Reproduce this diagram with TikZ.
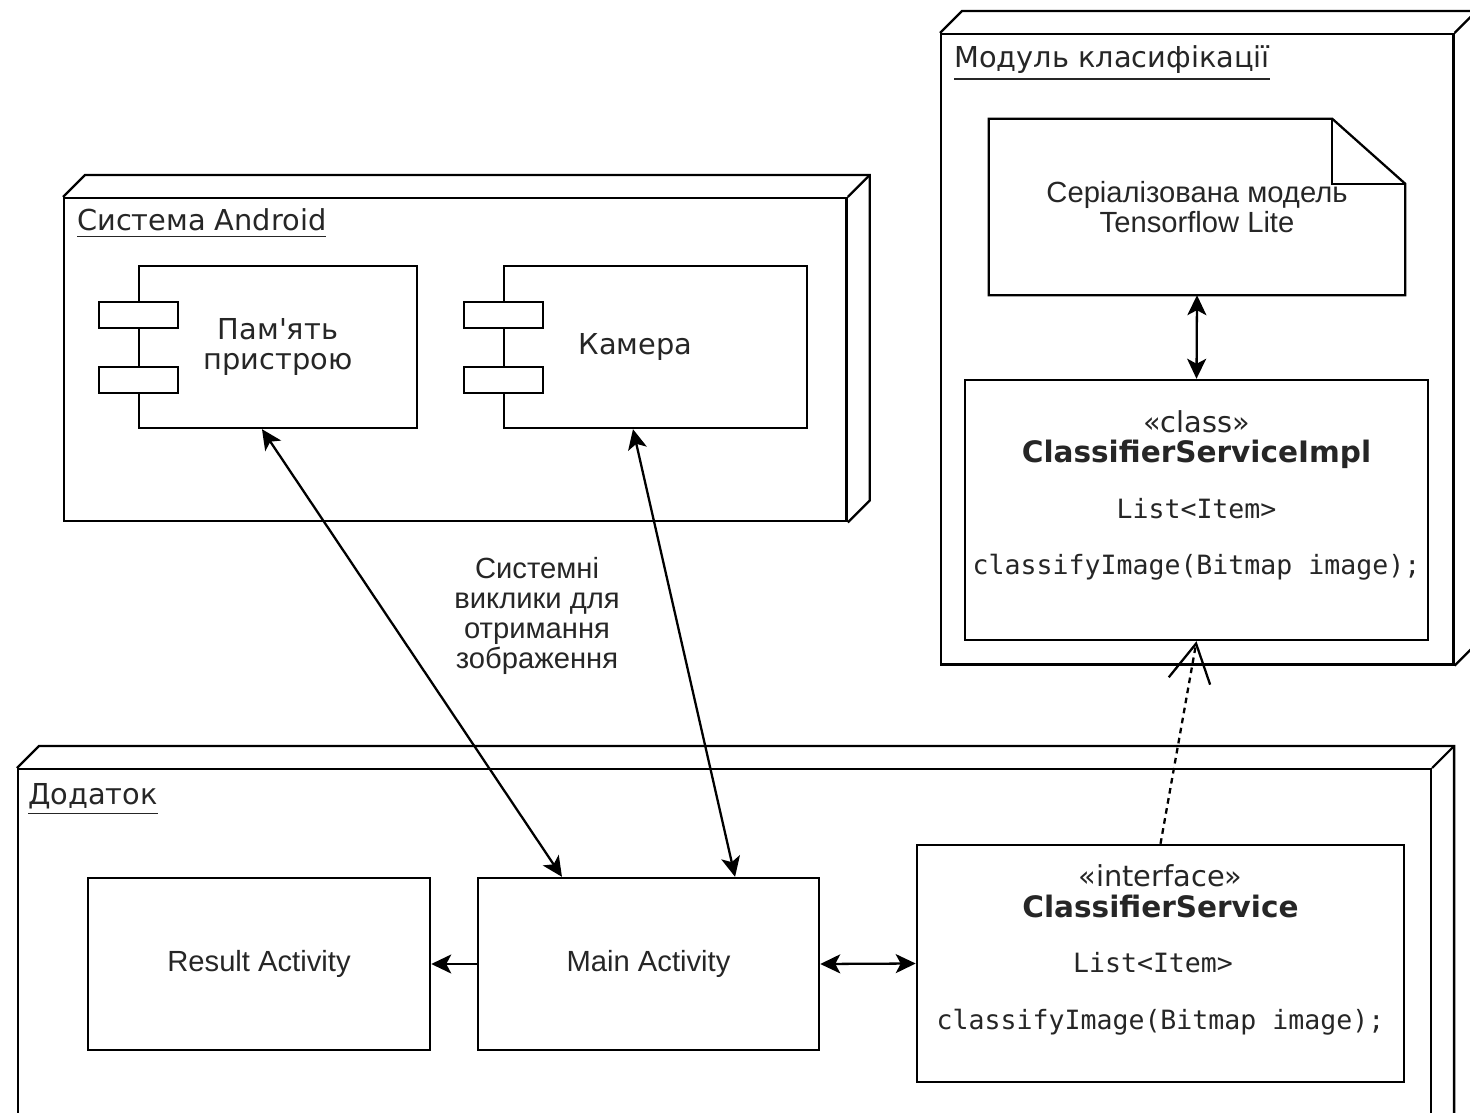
\documentclass[tikz,border=0pt]{standalone}
\usepackage{fontspec}
\setmainfont{Liberation Sans}
\newfontfamily\dejavu{DejaVu Sans}
\setmonofont{DejaVu Sans Mono}
\usetikzlibrary{arrows.meta,calc,positioning}

\begin{document}
\begin{tikzpicture}[
    x=0.01cm, y=-0.01cm,
    line width=0.65pt,
    font=\fontsize{8.3}{8.6}\selectfont,
    text=black!85,
    % Node styles
    pkg/.style={draw, anchor=north west, inner sep=0pt},
    pkgtitle/.style={anchor=base west, inner sep=0pt, font=\dejavu\fontsize{8.2}{10}\selectfont},
    comp/.style={draw, minimum height=1.62cm, align=center, font=\dejavu\fontsize{8.2}{8.8}\selectfont},
    port/.style={draw, fill=white, minimum width=0.79cm, minimum height=0.26cm, inner sep=0pt},
    box/.style={draw, minimum width=3.42cm, minimum height=1.72cm, align=center},
    stereo/.style={anchor=base, font=\dejavu\fontsize{8.2}{10}\selectfont},
    cname/.style={anchor=base, font=\dejavu\bfseries\fontsize{8.4}{10}\selectfont},
    code/.style={anchor=base, font=\ttfamily\fontsize{7.55}{9}\selectfont},
    % Connector styles
    both/.style={{Stealth[length=2mm,width=1.9mm,inset=0.5mm]}-{Stealth[length=2mm,width=1.9mm,inset=0.5mm]}},
    single/.style={-{Stealth[length=2mm,width=1.9mm,inset=0.5mm]}},
    realize/.style={dash pattern=on 1.6pt off 1.3pt, -{Straight Barb[length=3.8mm,width=4.2mm,line width=0.65pt]}},
]
    \clip (0,0) rectangle (1470,1113);

    % Nodes (3D boxes)
    \node[pkg, minimum width=7.82cm, minimum height=3.23cm] (android) at (63,197) {};
    \node[pkg, minimum width=5.12cm, minimum height=6.30cm] (module) at (940,33) {};
    \node[pkg, minimum width=14.12cm, minimum height=3.70cm] (app) at (17,768) {};
    \foreach \n in {android,module,app} {
        \draw (\n.north west) -- ++(22,-22) -| ($(\n.south east)+(22,-22)$) -- (\n.south east);
        \draw (\n.north east) -- ++(22,-22);
    }
    \node[pkgtitle] (androidtitle) at (76,231) {\underline{Система Android}};
    \node[pkgtitle] (moduletitle) at (953,68) {\underline{Модуль класифікації}};
    \node[pkgtitle] (apptitle) at (27,804) {\underline{Додаток}};

    % Components
    \node[comp, minimum width=2.78cm] (mem) at (278,347) {Пам'ять\\пристрою};
    \node[comp, minimum width=3.03cm] (cam) at (655.5,347) {Камера\hspace*{0.4cm}};
    \foreach \c in {mem,cam} {
        \foreach \dy/\k in {-32/1,33/2} {
            \node[port] (\c port\k) at ($(\c.west)+(1,\dy)$) {};
        }
    }

    % Serialized model (document)
    \node[minimum width=4.14cm, minimum height=1.74cm, align=center] (model) at (1197,207)
        {Серіалізована модель\\Tensorflow Lite};
    \draw (model.north west) -- ($(model.north east)+(-73,0)$) -- ($(model.north east)+(0,65)$)
        -- (model.south east) -- (model.south west) -- cycle;
    \draw ($(model.north east)+(-73,0)$) |- ($(model.north east)+(0,65)$);

    % Classes
    \node[draw, minimum width=4.63cm, minimum height=2.60cm] (impl) at (1196.5,510) {};
    \node[stereo] (implst) at (1196.5,433) {«class»};
    \node[cname] (implname) at (1196.5,463) {ClassifierServiceImpl};
    \node[code] (implfield) at (1196.5,519) {List<Item>};
    \node[code] (implop) at (1196.5,575) {classifyImage(Bitmap image);};

    \node[draw, minimum width=4.87cm, minimum height=2.37cm] (iface) at (1160.5,963.5) {};
    \node[stereo] (ifacest) at (1160.5,886) {«interface»};
    \node[cname] (ifacename) at (1160.5,917) {ClassifierService};
    \node[code] (ifacefield) at (1153,972) {List<Item>};
    \node[code] (ifaceop) at (1160.5,1029) {classifyImage(Bitmap image);};

    % Activities
    \node[box] (result) at (259,964) {Result Activity};
    \node[box, minimum width=3.41cm] (main) at (648.5,964) {Main Activity};

    % Connections
    \draw[both] ([xshift=-0.16cm]mem.south) -- ([xshift=-0.865cm]main.north);
    \draw[both] ([xshift=-0.225cm]cam.south) -- ([xshift=0.865cm]main.north);
    \draw[single] (main.west) -- (result.east);
    \draw[both] (main.east) -- (iface.west);
    \draw[both] (model.south) -- (impl.north);
    \draw[realize] (iface.north) -- (impl.south);

    % Label
    \node[align=center] (calls) at (537,616) {Системні\\виклики для\\отримання\\зображення};

\end{tikzpicture}
\end{document}
